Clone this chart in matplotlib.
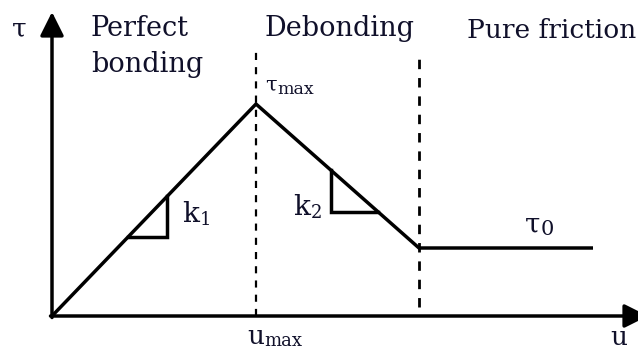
import matplotlib
matplotlib.use("Agg")
import matplotlib.pyplot as plt
from matplotlib.transforms import offset_copy

# Bond-slip law: piecewise linear tau(u)
u_pts = [0, 204, 367, 541]          # origin, u_max, start of friction, end
tau_pts = [0, 212, 68, 68]          # 0, tau_max, tau_0, tau_0
phase_labels = ["Perfect\nbonding", "Debonding", "Pure friction"]
k1_span = (76, 115)                 # u-range of the k1 slope triangle
k2_span = (279, 326)                # u-range of the k2 slope triangle

TXT = "#10102a"
SERIF = "DejaVu Serif"
LW = 2.5

fig = plt.figure(figsize=(6.38, 3.51), dpi=100)
ax = fig.add_axes([0, 0, 1, 1])
ax.set_xlim(-52, 586)
ax.set_ylim(-35, 316)
ax.axis("off")

# axes with arrow heads
arrow = dict(arrowstyle="-|>,head_length=0.8,head_width=0.4", mutation_scale=18,
             lw=LW, color="black", shrinkA=0, shrinkB=0)
ax.annotate("", xy=(0, 304), xytext=(0, -1.5), arrowprops=arrow,
            annotation_clip=False)
ax.annotate("", xy=(596, 0), xytext=(-1.5, 0), arrowprops=arrow,
            annotation_clip=False)

# constitutive curve
ax.plot(u_pts, tau_pts, color="black", lw=LW, solid_joinstyle="miter",
        solid_capstyle="butt")

# phase boundaries
ax.plot([u_pts[1], u_pts[1]], [0, 267], color="black", lw=1.6, ls=(0, (3.2, 3.2)))
ax.plot([u_pts[2], u_pts[2]], [9, 259], color="black", lw=2.0, ls=(0, (3.4, 3.2)))

# slope triangles
s1 = tau_pts[1] / u_pts[1]
a, b = k1_span
ax.plot([a, b, b], [s1 * a, s1 * a, s1 * b], color="black", lw=LW,
        solid_joinstyle="miter")
s2 = (tau_pts[2] - tau_pts[1]) / (u_pts[2] - u_pts[1])
f2 = lambda u: tau_pts[1] + s2 * (u - u_pts[1])
a, b = k2_span
ax.plot([a, a, b], [f2(a), f2(b), f2(b)], color="black", lw=LW,
        solid_joinstyle="miter")

# phase labels
kw = dict(family=SERIF, color=TXT, va="baseline", ha="left")
first, second = phase_labels[0].split("\n")
ax.text(39, 280, first, fontsize=19.5, **kw)
ax.text(39, 244, second, fontsize=19.5, **kw)
ax.text(213, 280, phase_labels[1], fontsize=19.5, **kw)
ax.text(415, 278, phase_labels[2], fontsize=19.0, **kw)

renderer = fig.canvas.get_renderer()


def symbol(x, y, base, sub, size, subsize, drop):
    """Base glyph with a subscript placed right after it, dropped by `drop` points."""
    t = ax.text(x, y, base, fontsize=size, **kw)
    if sub:
        bb = t.get_window_extent(renderer)
        xs = ax.transData.inverted().transform((bb.x1, 0))[0]
        tr = offset_copy(ax.transData, fig=fig, x=0.5, y=-drop, units="points")
        ax.text(xs, y, sub, fontsize=subsize, transform=tr, **kw)


symbol(-40, 279, "τ", "", 19, 0, 0)
symbol(213, 225, "τ", "max", 15, 12.5, 2.5)
symbol(130, 94, "k", "1", 20, 13, 2)
symbol(241, 101, "k", "2", 20, 13, 2)
symbol(473, 83, "τ", "0", 20, 15, 1.5)
symbol(195, -28, "u", "max", 19, 13, 1.5)
symbol(558, -29, "u", "", 19, 0, 0)

fig.savefig("out.png", dpi=100)
